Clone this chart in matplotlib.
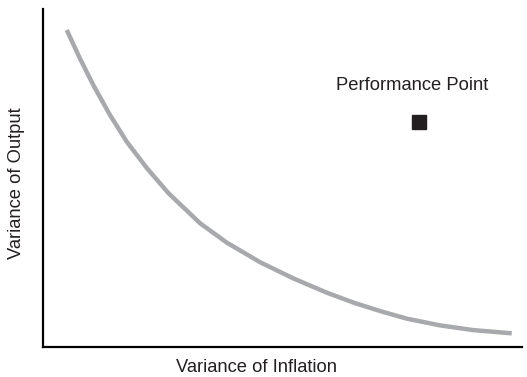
import matplotlib
matplotlib.use("Agg")
from matplotlib import pyplot as plt

plt.rcParams['font.family'] = ['Liberation Sans', 'DejaVu Sans']

# trade-off curve (axes run 0..100 both ways)
curve_x = [4.95, 7.7, 10.5, 14.0, 17.5, 21.7, 26.2, 32.8, 38.35, 45.3, 52.25, 59.2,
           65.1, 70.35, 75.9, 82.9, 89.8, 97.85]
curve_y = [93.8, 85.4, 77.5, 68.6, 60.7, 52.9, 45.5, 36.6, 30.9, 25.1, 20.3, 16.1,
           13.0, 10.65, 8.4, 6.4, 5.0, 4.05]

# the single performance point
point_x = [78.5]
point_y = [66.6]
point_label = "Performance Point"

x_label = "Variance of Inflation"
y_label = "Variance of Output"

W, H = 527, 377
fig = plt.figure(figsize=(W / 100, H / 100), dpi=100)
ax = fig.add_axes([43 / W, 30 / H, 479 / W, 338 / H])

ax.plot(curve_x, curve_y, color='#a7a9ac', linewidth=3.2, solid_capstyle='butt',
        solid_joinstyle='round')
ax.plot(point_x, point_y, marker='s', markersize=10, color='#231f20', linestyle='none')
ax.text(412 / W, 1 - 85 / H, point_label, transform=fig.transFigure, ha='center',
        va='center', fontsize=13.2, color='#231f20')

ax.set_xlim(0, 100)
ax.set_ylim(0, 100)
ax.set_xticks([])
ax.set_yticks([])
for side in ['top', 'right']:
  ax.spines[side].set_visible(False)
for side in ['left', 'bottom']:
  ax.spines[side].set_linewidth(1.6)
  ax.spines[side].set_color('black')

fig.text(256 / W, 1 - 368 / H, x_label, ha='center', va='center', fontsize=13.2, color='#231f20')
fig.text(17 / W, 1 - 183 / H, y_label, ha='center', va='center', rotation=90,
         fontsize=13.2, color='#231f20')

fig.savefig('out.png', dpi=100)
